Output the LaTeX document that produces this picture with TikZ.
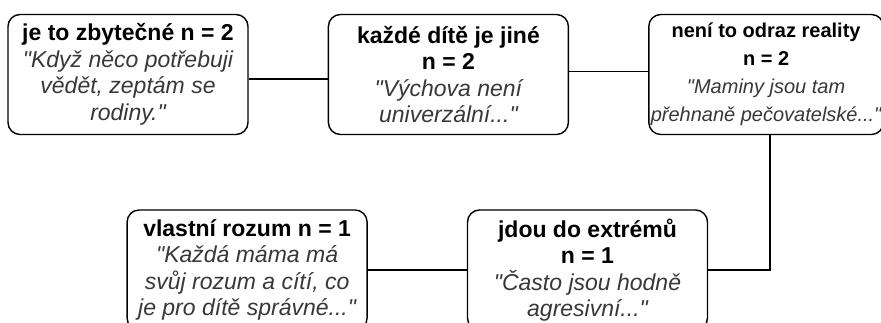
\documentclass[tikz,border=0pt]{standalone}
\usepackage{fontspec}
\setmainfont{Liberation Sans}
\usetikzlibrary{positioning}
\tikzset{main box/.style={rectangle,rounded corners=12pt,draw,line width=1.4pt,fill=white,minimum width=240pt,minimum height=120pt,inner sep=2pt,align=center,font=\fontsize{23}{26.5}\selectfont},
         small box/.style={main box,minimum width=233pt,font=\fontsize{20}{28}\selectfont},
         link/.style={line width=1.4pt}
}
\newcommand{\qt}[1]{{\itshape\color{black!78}\textquotedbl#1}}
\newcommand{\qe}{\textquotedbl}

\begin{document}
\begin{tikzpicture}[x=1pt,y=1pt]
\useasboundingbox (0,0) rectangle (881,323);
\clip (0,0) rectangle (881,323);

\node [main box] (zbyt) at (128,248.5) {\textbf{je to zbytečné n = 2}\\ \qt{Když něco potřebuji}\\ {\itshape\color{black!78}vědět, zeptám se}\\ {\itshape\color{black!78}rodiny.\qe}};
\node [main box,right = 79pt of zbyt] (dite) {\textbf{každé dítě je jiné}\\ \textbf{n = 2}\\ \qt{Výchova není}\\ {\itshape\color{black!78}univerzální...\qe}};
\node [small box,right = 79pt of dite] (odraz) {\textbf{není to odraz reality}\\ \textbf{n = 2}\\ \qt{Maminy jsou tam}\\ {\itshape\color{black!78}přehnaně pečovatelské...\qe}};

\node [main box] (extr) at (587.5,53) {\textbf{jdou do extrémů}\\ \textbf{n = 1}\\ \qt{Často jsou hodně}\\ {\itshape\color{black!78}agresivní...\qe}};
\node [main box,left = 99pt of extr] (rozum) {\textbf{vlastní rozum n = 1}\\ \qt{Každá máma má}\\ {\itshape\color{black!78}svůj rozum a cítí, co}\\ {\itshape\color{black!78}je pro dítě správné...\qe}};

\draw [link] ([yshift=-4.5pt]zbyt.east) -- ([yshift=-4.5pt]dite.west);
\draw [link] ([yshift=3pt]dite.east) -- ([yshift=3pt]odraz.west);
\draw [link] ([xshift=4pt]odraz.south) |- (extr.east);
\draw [link] (rozum.east) -- (extr.west);
\end{tikzpicture}
\end{document}
